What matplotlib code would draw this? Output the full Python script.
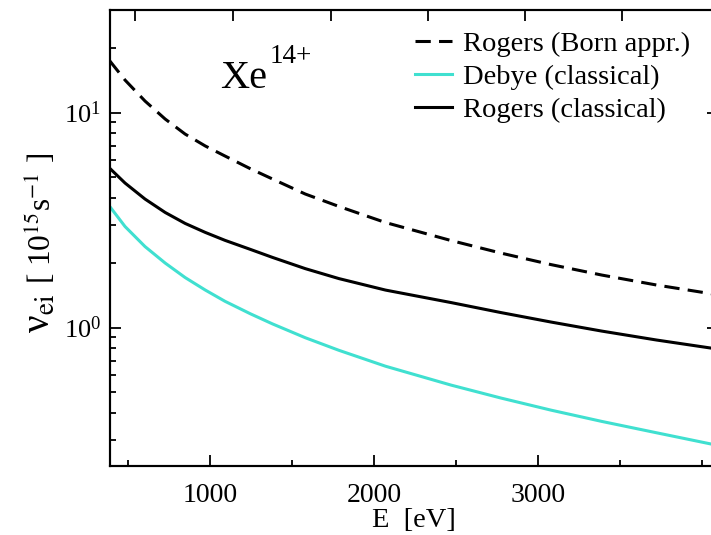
import matplotlib
matplotlib.use("Agg")
import matplotlib.pyplot as plt
from matplotlib.ticker import LogLocator, NullFormatter, MultipleLocator

plt.rcParams['font.family'] = ['Liberation Serif', 'DejaVu Serif']
plt.rcParams['mathtext.fontset'] = 'stix'

# electron energy grid (eV) and collision frequencies (10^15 s^-1)
energy = [385, 480, 602, 725, 847, 970, 1090, 1245, 1380, 1580,
          1785, 2070, 2470, 2775, 3080, 3390, 3725, 4070]
rogers_born = [17.46, 14.16, 11.31, 9.33, 7.94, 6.99, 6.28, 5.48, 4.91, 4.18,
               3.66, 3.08, 2.54, 2.22, 1.963, 1.755, 1.577, 1.432]
debye_classical = [3.67, 2.95, 2.38, 1.995, 1.708, 1.494, 1.325, 1.159, 1.040, 0.897,
                   0.784, 0.661, 0.540, 0.470, 0.413, 0.366, 0.324, 0.286]
rogers_classical = [5.52, 4.70, 3.96, 3.43, 3.05, 2.77, 2.545, 2.31, 2.12, 1.88,
                    1.69, 1.494, 1.307, 1.174, 1.061, 0.963, 0.875, 0.80]

x_ticks = [1000, 2000, 3000]
top_ticks = [541, 1141, 1735, 2328, 2922, 3516]

fig = plt.figure(figsize=(7.11, 5.35), dpi=100)
W, H = 711.0, 535.0
ax = fig.add_axes([109.5 / W, 1 - 466 / H, (718 - 109.5) / W, (466 - 10) / H])

lw = 2.2
ax.plot(energy, rogers_born, color='black', lw=lw, dashes=(5, 2.7),
        label='Rogers (Born appr.)')
ax.plot(energy, debye_classical, color='#40E0D0', lw=lw,
        label='Debye (classical)')
ax.plot(energy, rogers_classical, color='black', lw=lw,
        label='Rogers (classical)')

ax.set_yscale('log')
ax.set_xlim(385, 4100)
ax.set_ylim(0.227, 30)

ax.set_xticks(x_ticks)
ax.xaxis.set_minor_locator(MultipleLocator(500))
ax.yaxis.set_major_locator(LogLocator(base=10))
ax.yaxis.set_minor_locator(LogLocator(base=10, subs=range(2, 10)))
ax.yaxis.set_minor_formatter(NullFormatter())

for s in ax.spines.values():
    s.set_linewidth(1.5)
ax.tick_params(which='both', direction='in', width=1.3,
               top=False, right=True)
ax.tick_params(which='major', length=8)
ax.tick_params(which='minor', length=4.5)
ax.tick_params(axis='x', labelsize=20, pad=12)
ax.tick_params(axis='y', labelsize=19, pad=6)

# top axis carries its own tick spacing, no labels
top = ax.twiny()
top.set_xlim(ax.get_xlim())
top.set_xticks(top_ticks)
top.set_xticklabels([])
top.tick_params(direction='in', length=8, width=1.3)
for s in top.spines.values():
    s.set_linewidth(1.5)

ax.set_xlabel('E  [eV]', fontsize=20.5, labelpad=0)

fig.text(40 / W, 1 - 313 / H, 'ν$_{\\mathrm{ei}}$', fontsize=28, rotation=90,
         ha='center', va='center')
fig.text(42 / W, 1 - 218 / H, r'[ 10$^{15}$s$^{-1}$ ]', fontsize=22.5,
         rotation=90, ha='center', va='center')

fig.text(220 / W, 1 - 88 / H, 'Xe', fontsize=29, va='baseline')
fig.text(270 / W, 1 - 63 / H, '14+', fontsize=19.5, va='baseline')

ax.legend(loc='upper left', bbox_to_anchor=(415 / W, 1 - 31 / H),
          bbox_transform=fig.transFigure, frameon=False, fontsize=20.5,
          handlelength=1.3, handletextpad=0.4, labelspacing=0.25,
          borderpad=0, borderaxespad=0)

fig.savefig('out.png', dpi=100)
